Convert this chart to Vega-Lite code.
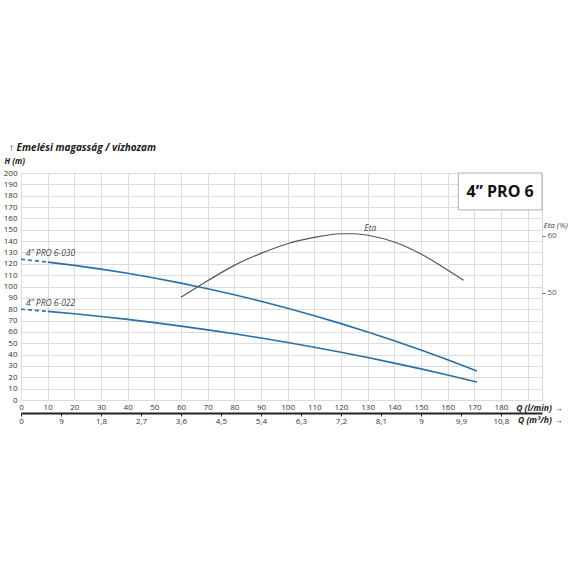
{
  "$schema": "https://vega.github.io/schema/vega-lite/v6.json",
  "width": 521,
  "height": 227,
  "autosize": {"type": "none"},
  "padding": {"left": 21, "top": 173, "right": 28, "bottom": 170},
  "background": "white",
  "config": {
    "font": "Open Sans, sans-serif",
    "view": {"stroke": "#d6d6d6"},
    "axis": {"labelFontSize": 8, "labelColor": "#333", "titleColor": "#222", "titleFontSize": 8.5, "titleFontWeight": "bold", "titleFontStyle": "italic"}
  },
  "title": {
    "text": "↑ Emelési magasság / vízhozam",
    "anchor": "start",
    "frame": "group",
    "fontSize": 10,
    "fontWeight": "bold",
    "fontStyle": "italic",
    "color": "#222",
    "dx": -12,
    "dy": 10,
    "offset": 14
  },
  "datasets": {
    "pump": [
      {"series": "4” PRO 6-030", "Q": 0, "H": 124.0},
      {"series": "4” PRO 6-030", "Q": 10, "H": 121.5},
      {"series": "4” PRO 6-030", "Q": 20, "H": 118.6},
      {"series": "4” PRO 6-030", "Q": 30, "H": 115.3},
      {"series": "4” PRO 6-030", "Q": 40, "H": 111.6},
      {"series": "4” PRO 6-030", "Q": 50, "H": 107.5},
      {"series": "4” PRO 6-030", "Q": 60, "H": 103.0},
      {"series": "4” PRO 6-030", "Q": 70, "H": 98.0},
      {"series": "4” PRO 6-030", "Q": 80, "H": 92.7},
      {"series": "4” PRO 6-030", "Q": 90, "H": 87.0},
      {"series": "4” PRO 6-030", "Q": 100, "H": 80.8},
      {"series": "4” PRO 6-030", "Q": 110, "H": 74.3},
      {"series": "4” PRO 6-030", "Q": 120, "H": 67.3},
      {"series": "4” PRO 6-030", "Q": 130, "H": 60.0},
      {"series": "4” PRO 6-030", "Q": 140, "H": 52.2},
      {"series": "4” PRO 6-030", "Q": 150, "H": 44.0},
      {"series": "4” PRO 6-030", "Q": 160, "H": 35.4},
      {"series": "4” PRO 6-030", "Q": 171, "H": 25.5},
      {"series": "4” PRO 6-022", "Q": 0, "H": 80.0},
      {"series": "4” PRO 6-022", "Q": 10, "H": 78.1},
      {"series": "4” PRO 6-022", "Q": 20, "H": 76.0},
      {"series": "4” PRO 6-022", "Q": 30, "H": 73.6},
      {"series": "4” PRO 6-022", "Q": 40, "H": 71.0},
      {"series": "4” PRO 6-022", "Q": 50, "H": 68.2},
      {"series": "4” PRO 6-022", "Q": 60, "H": 65.1},
      {"series": "4” PRO 6-022", "Q": 70, "H": 61.8},
      {"series": "4” PRO 6-022", "Q": 80, "H": 58.3},
      {"series": "4” PRO 6-022", "Q": 90, "H": 54.6},
      {"series": "4” PRO 6-022", "Q": 100, "H": 50.6},
      {"series": "4” PRO 6-022", "Q": 110, "H": 46.4},
      {"series": "4” PRO 6-022", "Q": 120, "H": 42.0},
      {"series": "4” PRO 6-022", "Q": 130, "H": 37.4},
      {"series": "4” PRO 6-022", "Q": 140, "H": 32.5},
      {"series": "4” PRO 6-022", "Q": 150, "H": 27.4},
      {"series": "4” PRO 6-022", "Q": 160, "H": 22.0},
      {"series": "4” PRO 6-022", "Q": 171, "H": 15.9}
    ],
    "eta": [
      {"Q": 60, "Eta": 49.2},
      {"Q": 70, "Eta": 52.1},
      {"Q": 80, "Eta": 54.8},
      {"Q": 90, "Eta": 56.9},
      {"Q": 100, "Eta": 58.6},
      {"Q": 110, "Eta": 59.7},
      {"Q": 120, "Eta": 60.35},
      {"Q": 125, "Eta": 60.35},
      {"Q": 131, "Eta": 60.0},
      {"Q": 140, "Eta": 58.9},
      {"Q": 150, "Eta": 56.8},
      {"Q": 160, "Eta": 54.0},
      {"Q": 166, "Eta": 52.2}
    ]
  },
  "resolve": {"scale": {"y": "independent"}, "axis": {"x": "independent", "y": "independent"}},
  "layer": [
    {
      "data": {"name": "pump"},
      "transform": [{"filter": "datum.Q >= 10"}],
      "mark": {"type": "line", "color": "#2b6fa6", "strokeWidth": 1.6},
      "encoding": {
        "x": {
          "field": "Q", "type": "quantitative",
          "scale": {"domain": [0, 195.4], "nice": false, "zero": false},
          "axis": {
            "orient": "bottom",
            "values": [0, 10, 20, 30, 40, 50, 60, 70, 80, 90, 100, 110, 120, 130, 140, 150, 160, 170, 180, 190],
            "labelExpr": "datum.value == 190 ? '' : datum.label",
            "grid": true, "gridColor": "#dcdcdc", "domain": false, "ticks": false,
            "labelPadding": 3, "labelFlush": false, "labelOverlap": false,
            "title": "Q (l/min)   →", "titleX": 541, "titleY": 7, "titleAlign": "right", "titleBaseline": "middle"
          }
        },
        "y": {
          "field": "H", "type": "quantitative",
          "scale": {"domain": [0, 200], "nice": false},
          "axis": {
            "orient": "left",
            "values": [0, 10, 20, 30, 40, 50, 60, 70, 80, 90, 100, 110, 120, 130, 140, 150, 160, 170, 180, 190, 200],
            "grid": true, "gridColor": "#dcdcdc", "domain": false, "ticks": false,
            "labelPadding": 4, "labelFlush": false, "labelOverlap": false,
            "title": "H (m)", "titleFontSize": 8, "titleAngle": 0, "titleX": -17, "titleY": -12, "titleAlign": "left", "titleBaseline": "middle"
          }
        },
        "detail": {"field": "series"}
      }
    },
    {
      "data": {"name": "pump"},
      "transform": [{"filter": "datum.Q <= 10"}],
      "mark": {"type": "line", "color": "#2b6fa6", "strokeWidth": 1.6, "strokeDash": [4, 3]},
      "encoding": {
        "x": {"field": "Q", "type": "quantitative", "axis": null},
        "y": {"field": "H", "type": "quantitative", "scale": {"domain": [0, 200], "nice": false}, "axis": null},
        "detail": {"field": "series"}
      }
    },
    {
      "data": {"name": "pump"},
      "transform": [{"filter": "datum.Q == 0"}],
      "mark": {"type": "text", "align": "left", "baseline": "middle", "dx": 5, "dy": -6, "fontSize": 8.5, "fontStyle": "italic", "color": "#444"},
      "encoding": {
        "x": {"field": "Q", "type": "quantitative", "axis": null},
        "y": {"field": "H", "type": "quantitative", "scale": {"domain": [0, 200], "nice": false}, "axis": null},
        "text": {"field": "series"}
      }
    },
    {
      "data": {"values": [{}]},
      "mark": {"type": "rect", "fill": "white", "stroke": "#b0b0b0", "strokeWidth": 1},
      "encoding": {
        "x": {"datum": 164, "type": "quantitative", "axis": null},
        "x2": {"datum": 195.4},
        "y": {"datum": 167.5, "type": "quantitative", "scale": {"domain": [0, 200], "nice": false}, "axis": null},
        "y2": {"datum": 200}
      }
    },
    {
      "data": {"values": [{}]},
      "mark": {"type": "text", "text": "4” PRO 6", "fontSize": 16, "fontWeight": "bold", "color": "#111", "align": "center", "baseline": "middle"},
      "encoding": {
        "x": {"datum": 179.7, "type": "quantitative", "axis": null},
        "y": {"datum": 183.7, "type": "quantitative", "scale": {"domain": [0, 200], "nice": false}, "axis": null}
      }
    },
    {
      "data": {"name": "eta"},
      "mark": {"type": "line", "color": "#555", "strokeWidth": 1.2, "interpolate": "monotone"},
      "encoding": {
        "x": {
          "field": "Q", "type": "quantitative",
          "axis": {
            "orient": "bottom", "offset": 13,
            "values": [0, 15, 30, 45, 60, 75, 90, 105, 120, 135, 150, 165, 180],
            "labelExpr": "datum.value == 15 ? '9' : replace(format(datum.value * 0.06, '.1~f'), '.', ',')",
            "grid": false, "domain": true, "domainColor": "#222", "domainWidth": 2,
            "ticks": true, "tickSize": 3, "tickColor": "#222", "labelPadding": 1,
            "labelFlush": false, "labelOverlap": false,
            "title": "Q (m³/h)   →", "titleX": 541, "titleY": 6, "titleAlign": "right", "titleBaseline": "middle"
          }
        },
        "y": {
          "field": "Eta", "type": "quantitative",
          "scale": {"domain": [31.2, 71], "nice": false, "zero": false},
          "axis": {
            "orient": "right", "values": [50, 60], "grid": false, "domain": false,
            "ticks": true, "tickSize": 3, "tickColor": "#666", "labelPadding": 2, "labelColor": "#555",
            "title": "Eta (%)", "titleAngle": 0, "titleX": 1, "titleY": 52, "titleAlign": "left", "titleBaseline": "middle",
            "titleFontWeight": "normal", "titleColor": "#444", "titleFontSize": 8
          }
        }
      }
    },
    {
      "data": {"name": "eta"},
      "transform": [{"filter": "datum.Q == 131"}],
      "mark": {"type": "text", "text": "Eta", "fontSize": 8.5, "fontStyle": "italic", "color": "#444", "dy": -8, "baseline": "middle"},
      "encoding": {
        "x": {"field": "Q", "type": "quantitative", "axis": null},
        "y": {"field": "Eta", "type": "quantitative", "scale": {"domain": [31.2, 71], "nice": false, "zero": false}, "axis": null}
      }
    }
  ]
}
